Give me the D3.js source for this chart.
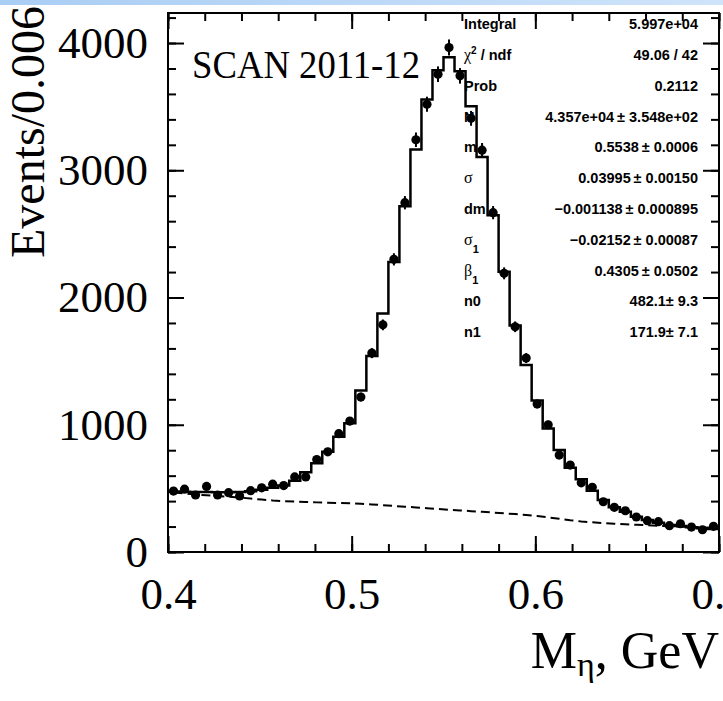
<!DOCTYPE html>
<html>
<head>
<meta charset="utf-8">
<script src="https://cdn.jsdelivr.net/npm/d3@7"></script>
<style>
  html, body { margin: 0; padding: 0; background: #fff; }
  svg { display: block; }
</style>
</head>
<body>
<svg id="chart" width="723" height="701"></svg>
<script>
// Eta invariant-mass spectrum, SCAN 2011-12: 50 bins of 0.006 GeV from 0.4 to 0.7
const binLow = 0.4;
const binWidth = 0.006;

// Measured counts per bin
const dataCounts = [
  479, 494, 448, 515, 448, 466, 440, 482, 504, 533,
  522, 590, 590, 727, 787, 930, 1029, 1218, 1563, 1785,
  2300, 2745, 3240, 3519, 3755, 3965, 3742, 3408, 3158, 2667,
  2190, 1770, 1524, 1163, 1000, 762, 683, 544, 508, 395,
  351, 324, 275, 246, 238, 207, 222, 196, 175, 202
];

// Fitted model (signal + background) integrated per bin
const fitCounts = [
  476, 474, 472, 471, 470, 470, 471, 478, 490, 505,
  522, 560, 626, 697, 788, 906, 1011, 1270, 1540, 1875,
  2280, 2718, 3163, 3556, 3786, 3888, 3778, 3504, 3105, 2647,
  2202, 1780, 1470, 1190, 971, 801, 662, 571, 481, 408,
  351, 317, 277, 251, 230, 212, 204, 194, 186, 181
];

// Background component of the fit at bin centres
const bkgCounts = [
  468, 460, 452, 446, 440, 435, 428, 420, 412, 405,
  400, 396, 393, 390, 387, 385, 383, 379, 374, 368,
  362, 356, 350, 344, 338, 332, 327, 321, 316, 310,
  304, 298, 290, 282, 272, 262, 250, 240, 233, 227,
  222, 218, 214, 210, 206, 202, 199, 196, 193, 190
];

const xMajorTicks = [0.4, 0.5, 0.6, 0.7];
const yMajorTicks = [0, 1000, 2000, 3000, 4000];

// Fit statistics panel
const statLabels = ["Integral", "chi2", "Prob", "N", "m", "sigma", "dm", "sigma1", "beta1", "n0", "n1"];
const statValues = [
  "5.997e+04", "49.06 / 42", "0.2112",
  "4.357e+04\u2009\u00b1 3.548e+02", "0.5538\u2009\u00b1 0.0006", "0.03995\u2009\u00b1 0.00150",
  "\u22120.001138\u2009\u00b1 0.000895", "\u22120.02152\u2009\u00b1 0.00087", "0.4305\u2009\u00b1 0.0502",
  "482.1\u00b1 9.3", "171.9\u00b1 7.1"
];

const svg = d3.select("#chart");
const serif = "'Liberation Serif', 'Times New Roman', serif";
const sans = "'Liberation Sans', Arial, Helvetica, sans-serif";

// slide strip along the top edge
const defs = svg.append("defs");
const grad = defs.append("linearGradient").attr("id", "strip");
grad.append("stop").attr("offset", "0%").attr("stop-color", "#a9cdf4");
grad.append("stop").attr("offset", "100%").attr("stop-color", "#cfe4fa");
svg.append("rect").attr("x", 0).attr("y", 0).attr("width", 723).attr("height", 5)
  .attr("fill", "url(#strip)");

const L = 168, R = 719, T = 13, B = 552;
const x = d3.scaleLinear().domain([0.4, 0.7]).range([L, R]);
const y = d3.scaleLinear().domain([0, 4236]).range([B, T]);

const nBins = dataCounts.length;
const edges = d3.range(nBins + 1).map(i => binLow + i * binWidth);
const centres = d3.range(nBins).map(i => binLow + (i + 0.5) * binWidth);

const plot = svg.append("g");

// background component, dashed
plot.append("path")
  .datum(bkgCounts.map((v, i) => [centres[i], v]))
  .attr("fill", "none").attr("stroke", "#000").attr("stroke-width", 2)
  .attr("stroke-dasharray", "9,5")
  .attr("d", d3.line().x(d => x(d[0])).y(d => y(d[1])));

// fit histogram as steps
const stepPts = fitCounts.map((v, i) => [edges[i], v]);
stepPts.push([edges[nBins], fitCounts[nBins - 1]]);
plot.append("path")
  .datum(stepPts)
  .attr("fill", "none").attr("stroke", "#000").attr("stroke-width", 2.5)
  .attr("d", d3.line().curve(d3.curveStepAfter).x(d => x(d[0])).y(d => y(d[1])));

// data points with statistical error bars
const pts = plot.append("g");
pts.selectAll("line").data(dataCounts).join("line")
  .attr("x1", (d, i) => x(centres[i])).attr("x2", (d, i) => x(centres[i]))
  .attr("y1", d => y(d - Math.sqrt(d))).attr("y2", d => y(d + Math.sqrt(d)))
  .attr("stroke", "#000").attr("stroke-width", 2);
pts.selectAll("circle").data(dataCounts).join("circle")
  .attr("cx", (d, i) => x(centres[i])).attr("cy", d => y(d))
  .attr("r", 4.6).attr("fill", "#000");

// axes: major and minor ticks pointing inward on all four sides
const xMinor = d3.range(0, 16).map(i => +(0.4 + i * 0.02).toFixed(2));
const yMinor = d3.range(0, 22).map(i => i * 200);

function styleAxis(g) {
  g.select(".domain").remove();
  g.selectAll(".tick line").attr("stroke", "#000").attr("stroke-width", 2);
}

svg.append("g").attr("transform", `translate(0,${B})`)
  .call(d3.axisBottom(x).tickValues(xMinor).tickSize(-8).tickFormat(""))
  .call(styleAxis);
svg.append("g").attr("transform", `translate(0,${B})`)
  .call(d3.axisBottom(x).tickValues(xMajorTicks).tickSize(-16).tickPadding(25)
    .tickFormat(d3.format(".1f")))
  .call(styleAxis)
  .call(g => g.selectAll("text").attr("font-family", serif).attr("font-size", 45).attr("fill", "#000"));

svg.append("g").attr("transform", `translate(0,${T})`)
  .call(d3.axisTop(x).tickValues(xMinor).tickSize(-8).tickFormat(""))
  .call(styleAxis);
svg.append("g").attr("transform", `translate(0,${T})`)
  .call(d3.axisTop(x).tickValues(xMajorTicks).tickSize(-16).tickFormat(""))
  .call(styleAxis);

svg.append("g").attr("transform", `translate(${L},0)`)
  .call(d3.axisLeft(y).tickValues(yMinor).tickSize(-8).tickFormat(""))
  .call(styleAxis);
svg.append("g").attr("transform", `translate(${L},0)`)
  .call(d3.axisLeft(y).tickValues(yMajorTicks).tickSize(-16).tickPadding(20)
    .tickFormat(d3.format("d")))
  .call(styleAxis)
  .call(g => g.selectAll("text").attr("font-family", serif).attr("font-size", 45).attr("fill", "#000"));

svg.append("g").attr("transform", `translate(${R},0)`)
  .call(d3.axisRight(y).tickValues(yMinor).tickSize(-8).tickFormat(""))
  .call(styleAxis);
svg.append("g").attr("transform", `translate(${R},0)`)
  .call(d3.axisRight(y).tickValues(yMajorTicks).tickSize(-16).tickFormat(""))
  .call(styleAxis);

// frame
svg.append("rect").attr("x", L).attr("y", T).attr("width", R - L).attr("height", B - T)
  .attr("fill", "none").attr("stroke", "#000").attr("stroke-width", 2);

// axis titles
svg.append("text")
  .attr("transform", "translate(44,6) rotate(-90)")
  .attr("text-anchor", "end")
  .attr("font-family", serif).attr("font-size", 48).attr("fill", "#000")
  .text("Events/0.006");

const xt = svg.append("text")
  .attr("x", 719).attr("y", 668).attr("text-anchor", "end")
  .attr("font-family", serif).attr("font-size", 52).attr("fill", "#000");
xt.append("tspan").text("M");
xt.append("tspan").attr("font-size", 34).attr("dy", 8).text("\u03b7");
xt.append("tspan").attr("dy", -8).text(", GeV");

// experiment label
svg.append("text")
  .attr("x", 192).attr("y", 78)
  .attr("font-family", serif).attr("font-size", 40).attr("fill", "#000")
  .attr("textLength", 228).attr("lengthAdjust", "spacingAndGlyphs")
  .text("SCAN 2011-12");

// statistics panel
const stats = svg.append("g");
const greek = { chi2: "\u03c7", sigma: "\u03c3", sigma1: "\u03c3", beta1: "\u03b2" };
statLabels.forEach((lab, i) => {
  const cy = 24 + 30.8 * i;
  const t = stats.append("text")
    .attr("x", 464).attr("y", cy).attr("dy", "0.36em")
    .attr("font-family", sans).attr("font-weight", "bold").attr("font-size", 14.5).attr("fill", "#000");
  if (lab === "chi2") {
    t.append("tspan").attr("font-family", serif).attr("font-weight", "normal").attr("font-size", 16).text(greek[lab]);
    t.append("tspan").attr("font-size", 10).attr("dy", -6).text("2");
    t.append("tspan").attr("dy", 6).text(" / ndf");
  } else if (lab === "sigma") {
    t.append("tspan").attr("font-family", serif).attr("font-weight", "normal").attr("font-size", 16).text(greek[lab]);
  } else if (lab === "sigma1" || lab === "beta1") {
    t.append("tspan").attr("font-family", serif).attr("font-weight", "normal").attr("font-size", 16).text(greek[lab]);
    t.append("tspan").attr("font-size", 11).attr("dy", 8).text("1");
  } else {
    t.text(lab);
  }
  stats.append("text")
    .attr("x", 698).attr("y", cy).attr("dy", "0.36em").attr("text-anchor", "end")
    .attr("font-family", sans).attr("font-weight", "bold").attr("font-size", 14.5).attr("fill", "#000")
    .text(statValues[i]);
});
</script>
</body>
</html>
